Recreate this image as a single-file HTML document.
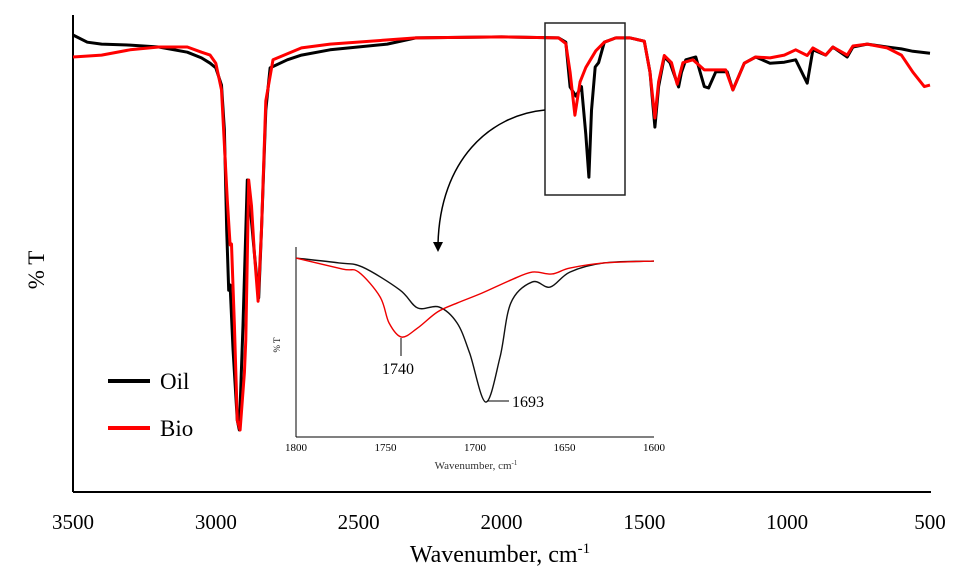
<!DOCTYPE html>
<html><head><meta charset="utf-8"><style>
body{margin:0;background:#fff;}
svg{display:block;font-family:"Liberation Serif",serif;}
</style></head><body>
<svg id="c" width="966" height="581" viewBox="0 0 966 581">
<g id="main"></g>
<g id="inset"></g>
</svg>
<script>
// Main spectrum data (wavenumber cm-1, %T relative)
const oilW=[3500,3450,3400,3300,3200,3100,3050,3020,3000,2980,2970,2962,2955,2950,2940,2925,2918,2905,2890,2880,2865,2850,2840,2825,2810,2750,2700,2600,2400,2300,2000,1800,1775,1760,1740,1720,1705,1694,1685,1672,1660,1640,1600,1550,1500,1480,1463,1450,1430,1410,1380,1370,1355,1320,1290,1275,1250,1210,1190,1150,1110,1060,1010,970,930,910,865,840,790,770,720,650,600,560,500];
const oilT=[95.8,94.3,93.9,93.7,93.3,92.2,91.0,89.9,88.9,85.3,75.9,54.9,42.3,43.4,30,15,13.0,35,65.4,60,50,40.7,55,80,88.9,90.6,91.6,92.7,93.9,95.2,95.4,95.2,94.3,84.9,83,85,75,66.0,80,89.1,90,94.3,95.2,95.2,94.5,88,76.5,85,91.2,90,84.9,88,90.6,91.2,85,84.7,88.1,88.1,84.3,89.9,91.2,89.9,90.1,90.6,85.7,92.7,91.6,93.3,91.2,93.3,93.9,93.3,92.9,92.4,92.0];
const bioW=[3500,3400,3300,3200,3100,3050,3020,3000,2980,2960,2950,2945,2935,2925,2915,2900,2895,2885,2875,2865,2852,2840,2825,2800,2700,2600,2300,2000,1800,1775,1760,1743,1725,1705,1690,1670,1640,1600,1550,1500,1480,1463,1450,1430,1405,1385,1365,1330,1290,1250,1215,1190,1150,1110,1060,1010,970,930,910,865,840,790,770,720,650,600,560,520,500];
const bioT=[91.2,91.6,92.7,93.3,93.3,92.2,91.6,89.9,84.3,61.2,51.8,52,35,15,13.0,25,31.9,65.4,60,50,40,55,82,90.6,93.1,93.9,95.2,95.4,95.2,94,88,79.0,86,89,90.5,92.5,94.3,95.2,95.2,94.5,88,78.4,86,91.5,90,85.5,90,90.6,88.5,88.5,88.5,84.3,89.9,91.2,91,91.6,92.7,91.5,93.1,91.6,93.3,91.6,93.5,93.9,93.1,91.6,88,85,85.3];
const xTicks=[3500,3000,2500,2000,1500,1000,500];
// Inset data
const inOilW=[1800,1776,1763,1742,1732,1720,1710,1703,1694,1686,1680,1668,1658,1647,1628,1600];
const inOilT=[94.2,91.6,89.5,77.4,67.9,68.4,60,44.2,18.4,42.1,70.5,81.6,78.9,86.8,91.6,92.6];
const inBioW=[1800,1774,1765,1753,1748,1741,1732,1721,1710,1696,1680,1668,1657,1647,1628,1600];
const inBioT=[94.2,88.4,86.8,73.7,60,52.6,57.4,65.8,70.5,75.8,82.6,86.8,85.8,88.9,91.6,92.6];
const inTicks=[1800,1750,1700,1650,1600];

const NS="http://www.w3.org/2000/svg";
function mk(parent,tag,attrs,txt){const e=document.createElementNS(NS,tag);for(const k in attrs)e.setAttribute(k,attrs[k]);if(txt!==undefined)e.textContent=txt;parent.appendChild(e);return e;}
const X=w=>73+(3500-w)/3000*857;
const Y=t=>492-t/100*477;
const IX=w=>296+(1800-w)/200*358;
const IY=t=>437-t/100*190;
function linear(pts){return "M"+pts.map(p=>p[0].toFixed(1)+","+p[1].toFixed(1)).join(" L");}
function smooth(pts){let d="M"+pts[0][0]+","+pts[0][1];for(let i=0;i<pts.length-1;i++){const p0=pts[i-1]||pts[i],p1=pts[i],p2=pts[i+1],p3=pts[i+2]||p2;const c1=[p1[0]+(p2[0]-p0[0])/6,p1[1]+(p2[1]-p0[1])/6],c2=[p2[0]-(p3[0]-p1[0])/6,p2[1]-(p3[1]-p1[1])/6];d+=" C"+c1.join(",")+" "+c2.join(",")+" "+p2.join(",");}return d;}

const m=document.getElementById('main');
let el;
el=mk(m,'line',{x1:73,y1:15,x2:73,y2:492,stroke:'#000','stroke-width':2});


el=mk(m,'line',{x1:73,y1:492,x2:931,y2:492,stroke:'#000','stroke-width':2});


xTicks.forEach(w=>{
  el=mk(m,'text',{x:X(w),y:529,'font-size':21,'text-anchor':'middle'},String(w));
  
  
});
el=mk(m,'text',{x:500,y:562,'font-size':24,'text-anchor':'middle'},'Wavenumber, cm');


mk(el,'tspan',{'font-size':15,dy:-9},'-1');
el=mk(m,'text',{x:0,y:0,'font-size':23,'text-anchor':'middle',transform:'translate(44,270) rotate(-90)'},'% T');



el=mk(m,'path',{d:linear(oilW.map((w,i)=>[X(w),Y(oilT[i])])),fill:'none',stroke:'#000','stroke-width':3,'stroke-linejoin':'round'});


el=mk(m,'path',{d:linear(bioW.map((w,i)=>[X(w),Y(bioT[i])])),fill:'none',stroke:'#f00','stroke-width':3,'stroke-linejoin':'round'});



// zoom box + arrow
el=mk(m,'rect',{x:545,y:23,width:80,height:172,fill:'none',stroke:'#222','stroke-width':1.5});


el=mk(m,'path',{d:'M545,110 C490,115 440,160 438,244',fill:'none',stroke:'#000','stroke-width':1.5});


mk(m,'path',{d:'M433,242 L443,242 L438,252 Z',fill:'#000'});

// legend
el=mk(m,'line',{x1:108,y1:381,x2:150,y2:381,stroke:'#000','stroke-width':4});


el=mk(m,'text',{x:160,y:389,'font-size':23},'Oil');


el=mk(m,'line',{x1:108,y1:428,x2:150,y2:428,stroke:'#f00','stroke-width':4});


el=mk(m,'text',{x:160,y:436,'font-size':23},'Bio');



// inset
const n=document.getElementById('inset');
el=mk(n,'line',{x1:296,y1:247,x2:296,y2:437,stroke:'#000','stroke-width':1});


el=mk(n,'line',{x1:296,y1:437,x2:654,y2:437,stroke:'#000','stroke-width':1});


inTicks.forEach(w=>{
  el=mk(n,'text',{x:IX(w),y:451,'font-size':11,'text-anchor':'middle'},String(w));
  
  
});
el=mk(n,'text',{x:476,y:469,'font-size':11,'text-anchor':'middle',fill:'#333'},'Wavenumber, cm');


mk(el,'tspan',{'font-size':7,dy:-4},'-1');
el=mk(n,'text',{x:0,y:0,'font-size':9,'text-anchor':'middle',transform:'translate(280,345) rotate(-90)'},'% T');


el=mk(n,'path',{d:smooth(inOilW.map((w,i)=>[IX(w),IY(inOilT[i])])),fill:'none',stroke:'#111','stroke-width':1.4});


el=mk(n,'path',{d:smooth(inBioW.map((w,i)=>[IX(w),IY(inBioT[i])])),fill:'none',stroke:'#e00','stroke-width':1.4});


mk(n,'line',{x1:401,y1:338,x2:401,y2:356,stroke:'#000','stroke-width':1});
el=mk(n,'text',{x:398,y:374,'font-size':16,'text-anchor':'middle'},'1740');


mk(n,'line',{x1:487,y1:401,x2:509,y2:401,stroke:'#000','stroke-width':1});
el=mk(n,'text',{x:512,y:407,'font-size':16},'1693');


</script>
</body></html>
